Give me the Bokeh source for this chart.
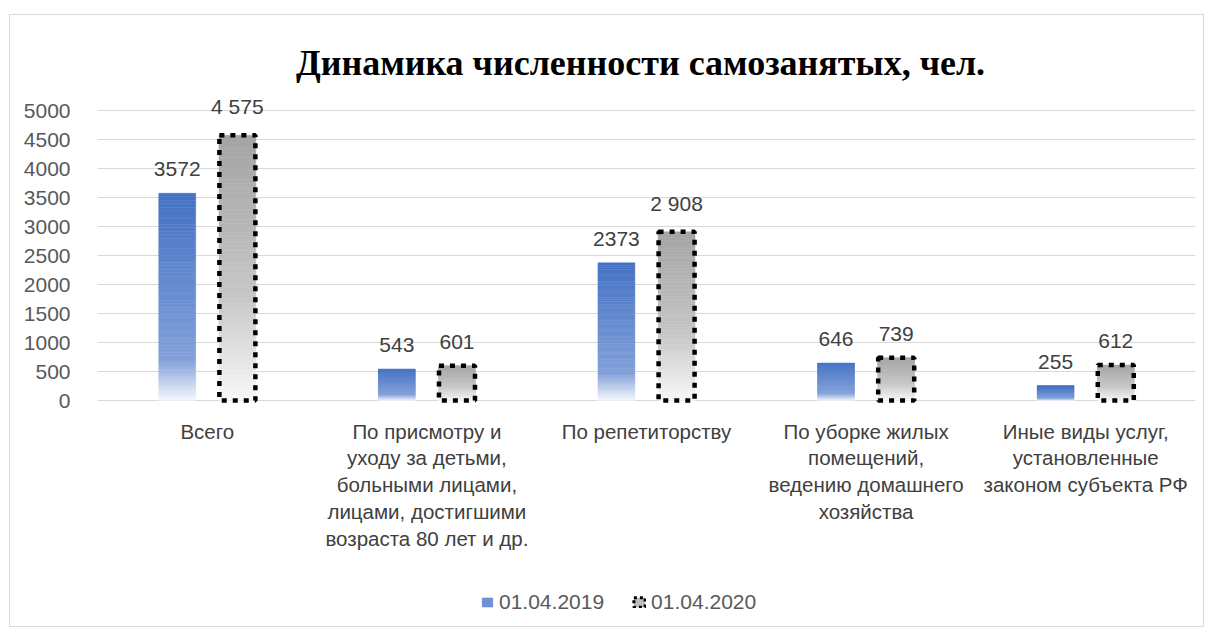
from bokeh.plotting import figure
from bokeh.models import (ColumnDataSource, Range1d, FixedTicker, LabelSet, Label,
                          Legend, LegendItem)
from bokeh.transform import dodge
from bokeh.core.properties import value
from bokeh.embed import file_html
from bokeh.resources import INLINE

categories = ["c1", "c2", "c3", "c4", "c5"]
category_labels = [
    "Всего",
    "По присмотру и\nуходу за детьми,\nбольными лицами,\nлицами, достигшими\nвозраста 80 лет и др.",
    "По репетиторству",
    "По уборке жилых\nпомещений,\nведению домашнего\nхозяйства",
    "Иные виды услуг,\nустановленные\nзаконом субъекта РФ",
]
values_2019 = [3572, 543, 2373, 646, 255]
values_2020 = [4575, 601, 2908, 739, 612]
series_names = ["01.04.2019", "01.04.2020"]
y_ticks = [0, 500, 1000, 1500, 2000, 2500, 3000, 3500, 4000, 4500, 5000]
title_text = "Динамика численности самозанятых, чел."

FONT = "Liberation Sans"
OFF = 0.137
BW = 0.168
N = 60

# layout constants (pixels)
W, H = 1195, 613
FRAME_TOP_PX = 15          # page y of frame top
ZERO_PX = 400              # page y of value 0
PX_PER_UNIT = 0.058
y_top = (ZERO_PX - FRAME_TOP_PX) / PX_PER_UNIT
y_bot = -(FRAME_TOP_PX + H - ZERO_PX) / PX_PER_UNIT


def py(page_y):
    return (ZERO_PX - page_y) / PX_PER_UNIT


def lerp(c1, c2, t):
    return tuple(int(round(a + (b - a) * t)) for a, b in zip(c1, c2))


def blue_color(tf):  # tf = fraction from top (0 top, 1 bottom)
    top = (68, 114, 196)
    mid = (130, 160, 217)
    bot = (246, 248, 252)
    if tf < 0.8:
        return lerp(top, mid, tf / 0.8)
    return lerp(mid, bot, (tf - 0.8) / 0.2)


def gray_color(tf):
    top = (164, 164, 164)
    mid = (198, 198, 198)
    bot = (248, 248, 248)
    if tf < 0.6:
        return lerp(top, mid, tf / 0.6)
    return lerp(mid, bot, (tf - 0.6) / 0.4)


def hexc(c):
    return "#%02x%02x%02x" % c


p = figure(x_range=categories, y_range=Range1d(y_bot, y_top), width=W, height=H,
           output_backend="svg", toolbar_location=None,
           min_border=0, min_border_left=87, min_border_right=10,
           min_border_top=0, min_border_bottom=0)
p.styles = {"border": "1px solid #d9d9d9", "margin-top": "14px", "margin-left": "9px"}
p.outline_line_color = None
p.background_fill_color = "white"
p.xaxis.visible = False

# gradient slices
for vals, off, cfun in [(values_2019, -OFF, blue_color), (values_2020, OFF, gray_color)]:
    xs, bots, tops, cols = [], [], [], []
    for c, v in zip(categories, vals):
        for i in range(N):
            xs.append(c)
            bots.append(v * i / N)
            tops.append(v * (i + 1) / N)
            cols.append(hexc(cfun(1 - (i + 0.5) / N)))
    src = ColumnDataSource(dict(x=xs, bottom=bots, top=tops, color=cols))
    p.vbar(x=dodge("x", off, range=p.x_range), bottom="bottom", top="top", width=BW,
           source=src, fill_color="color", line_color="color", line_width=0.5)

src20 = ColumnDataSource(dict(x=categories, top=values_2020))
p.vbar(x=dodge("x", OFF, range=p.x_range), top="top", bottom=0, width=BW - 0.004, source=src20,
       fill_color=None, line_color="black", line_width=4.5, line_dash="5 6")

# data labels
lab19 = ColumnDataSource(dict(x=categories, y=values_2019, t=[str(v) for v in values_2019]))
lab20 = ColumnDataSource(dict(x=categories, y=values_2020,
                              t=[f"{v:,}".replace(",", " ") for v in values_2020]))
for s, off in [(lab19, -OFF), (lab20, OFF)]:
    p.add_layout(LabelSet(x=dodge("x", off, range=p.x_range), y="y", text="t", source=s,
                          text_align="center", text_baseline="bottom", y_offset=17,
                          text_font=value(FONT), text_font_size=value("21px"),
                          text_color="#404040"))

# category labels (drawn as text under the baseline)
xl = ColumnDataSource(dict(x=categories, t=category_labels, y=[py(419)] * len(categories)))
p.text(x="x", y="y", text="t", source=xl, text_align="center", text_baseline="top",
       text_font=value(FONT), text_font_size=value("20.5px"), text_color="#404040",
       text_line_height=1.17)

# y axis
p.yaxis.ticker = FixedTicker(ticks=y_ticks)
p.yaxis.axis_line_color = None
p.yaxis.major_tick_line_color = None
p.yaxis.minor_tick_line_color = None
p.yaxis.major_label_text_font = FONT
p.yaxis.major_label_text_font_size = "21px"
p.yaxis.major_label_text_color = "#595959"
p.yaxis.major_label_standoff = 21

p.xgrid.grid_line_color = None
p.ygrid.grid_line_color = "#d9d9d9"
p.ygrid.grid_line_width = 1
p.ygrid.ticker = FixedTicker(ticks=y_ticks)

# title
p.add_layout(Label(x=2.5, y=py(62), text=title_text, text_align="center", text_baseline="middle",
                   x_offset=-6, text_font="Liberation Serif", text_font_style="bold",
                   text_font_size="36px", text_color="#000000"))

# legend (proxy renderers drawn far below the visible area)
e1 = ColumnDataSource(dict(x=[categories[0]], top=[y_bot * 3], bottom=[y_bot * 4]))
r1 = p.vbar(x="x", top="top", bottom="bottom", width=0.1, source=e1,
            fill_color="#6f92d3", line_color=None)
r2 = p.vbar(x="x", top="top", bottom="bottom", width=0.1, source=e1,
            fill_color="#bdbdbd", line_color="black", line_width=3, line_dash="3 3")
legend = Legend(items=[LegendItem(label=series_names[0], renderers=[r1]),
                       LegendItem(label=series_names[1], renderers=[r2])],
                orientation="horizontal", location=(383, 14),
                label_text_font=FONT, label_text_font_size="21px", label_text_color="#595959",
                glyph_width=14, glyph_height=12, label_standoff=5, spacing=28,
                background_fill_alpha=0, border_line_color=None, padding=0, margin=0)
p.add_layout(legend, "center")

open("out.html", "w").write(file_html(p, INLINE))
